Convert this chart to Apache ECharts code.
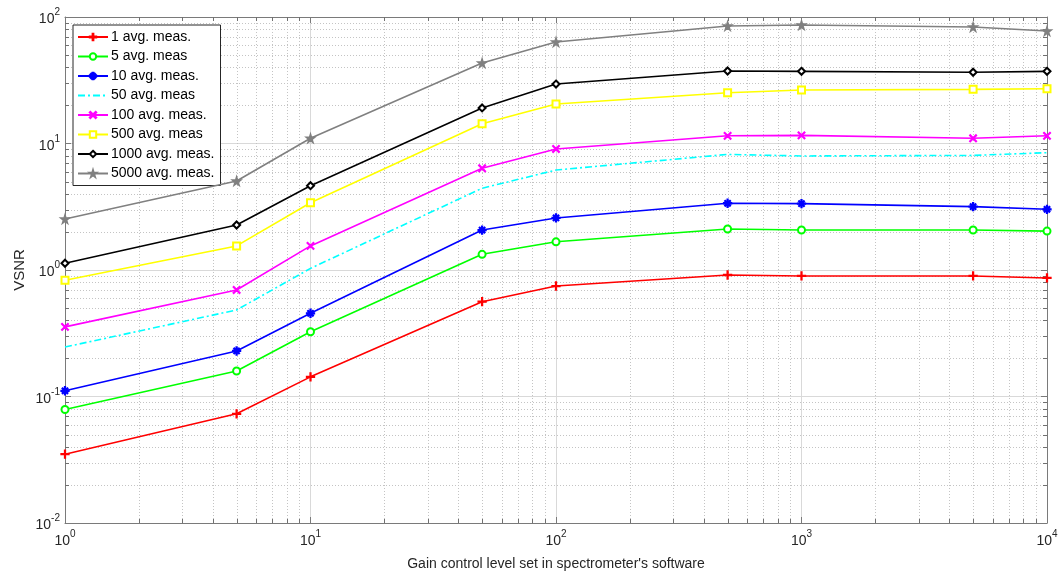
<!DOCTYPE html>
<html>
<head>
<meta charset="utf-8">
<script src="https://cdn.jsdelivr.net/npm/echarts@6/dist/echarts.min.js"></script>
<style>
html,body{margin:0;padding:0;background:#fff;}
#chart{width:1064px;height:576px;}
</style>
</head>
<body>
<div id="chart"></div>
<script>
// ---- data ----
const gain = [1, 5, 10, 50, 100, 500, 1000, 5000, 10000];
const avg1    = [0.035, 0.073, 0.143, 0.562, 0.747, 0.913, 0.897, 0.897, 0.865];
const avg5    = [0.079, 0.159, 0.325, 1.33, 1.67, 2.11, 2.07, 2.07, 2.03];
const avg10   = [0.111, 0.229, 0.455, 2.07, 2.58, 3.37, 3.35, 3.17, 3.02];
const avg50   = [0.246, 0.483, 1.03, 4.43, 6.17, 8.2, 7.97, 8.05, 8.46];
const avg100  = [0.355, 0.695, 1.55, 6.37, 9.05, 11.5, 11.6, 11.0, 11.5];
const avg500  = [0.83, 1.55, 3.40, 14.3, 20.5, 25.2, 26.5, 26.8, 27.1];
const avg1000 = [1.13, 2.27, 4.64, 19.1, 29.5, 37.4, 37.2, 36.6, 37.2];
const avg5000 = [2.53, 5.05, 11.0, 43.3, 63.5, 85, 86.5, 83.4, 77.5];
const seriesNames = ['1 avg. meas.', '5 avg. meas', '10 avg. meas.', '50 avg. meas',
  '100 avg. meas.', '500 avg. meas', '1000 avg. meas.', '5000 avg. meas.'];
const xMinorTicks = [2,3,4,5,6,7,8,9,20,30,40,50,60,70,80,90,200,300,400,500,600,700,800,900,
  2000,3000,4000,5000,6000,7000,8000,9000];
const yMinorTicks = [0.02,0.03,0.04,0.05,0.06,0.07,0.08,0.09,0.2,0.3,0.4,0.5,0.6,0.7,0.8,0.9,
  2,3,4,5,6,7,8,9,20,30,40,50,60,70,80,90];
const xLabel = "Gain control level set in spectrometer's software";
const yLabel = 'VSNR';

// ---- symbols ----
const PLUS = 'path://M4.4,0 L5.6,0 L5.6,10 L4.4,10 Z M0,4.4 L10,4.4 L10,5.6 L0,5.6 Z';
const CROSS = 'path://M0,0.9 L0.9,0 L10,9.1 L9.1,10 Z M9.1,0 L10,0.9 L0.9,10 L0,9.1 Z';
const ASTER = 'path://M4.4,0 L5.6,0 L5.6,10 L4.4,10 Z M0,4.4 L10,4.4 L10,5.6 L0,5.6 Z M1.3,2.1 L2.1,1.3 L8.7,7.9 L7.9,8.7 Z M7.9,1.3 L8.7,2.1 L2.1,8.7 L1.3,7.9 Z';
const STAR = 'path://M50,0 L61,35 L98,35 L68,57 L79,91 L50,70 L21,91 L32,57 L2,35 L39,35 Z';

const valuesList = [avg1, avg5, avg10, avg50, avg100, avg500, avg1000, avg5000];
const colors = ['#ff0000', '#00ff00', '#0000ff', '#00ffff', '#ff00ff', '#ffff00', '#000000', '#808080'];
const symbols = [PLUS, 'emptyCircle', ASTER, 'none', CROSS, 'emptyRect', 'emptyDiamond', STAR];
const symSizes = [8, 7, 8, 0, 7, 7, 7, 9];

const lineSeries = valuesList.map((vals, i) => ({
  name: seriesNames[i],
  type: 'line',
  xAxisIndex: 0, yAxisIndex: 0,
  data: gain.map((g, j) => [g, vals[j]]),
  symbol: symbols[i],
  showSymbol: symbols[i] !== 'none',
  symbolSize: symSizes[i],
  color: colors[i],
  lineStyle: { width: 1.6, color: colors[i], type: i === 3 ? [7, 3, 2, 3] : 'solid' },
  itemStyle: { color: colors[i], borderColor: colors[i], borderWidth: 1.3 },
  emphasis: { disabled: true },
  animation: false,
  z: 3 + i
}));

// minor grid (dotted) + minor ticks, positioned through the axes
const gridData = xMinorTicks.map(v => [v, 1, 0]).concat(yMinorTicks.map(v => [1, v, 1]));
const gridSeries = {
  type: 'custom',
  name: 'minorGrid',
  xAxisIndex: 0, yAxisIndex: 0,
  silent: true,
  animation: false,
  z: 1,
  data: gridData,
  encode: { x: 0, y: 1 },
  renderItem: function (params, api) {
    const cs = params.coordSys;
    const flag = api.value(2);
    const children = [];
    const dash = { stroke: '#c4c4c4', lineWidth: 1, lineDash: [1, 2] };
    const tick = { stroke: '#707070', lineWidth: 1 };
    if (flag === 0) {
      const x = Math.round(api.coord([api.value(0), 1])[0]) + 0.5;
      children.push({ type: 'line', shape: { x1: x, y1: cs.y, x2: x, y2: cs.y + cs.height }, style: dash });
      children.push({ type: 'line', shape: { x1: x, y1: cs.y + cs.height, x2: x, y2: cs.y + cs.height - 4 }, style: tick });
      children.push({ type: 'line', shape: { x1: x, y1: cs.y, x2: x, y2: cs.y + 4 }, style: tick });
    } else {
      const y = Math.round(api.coord([1, api.value(1)])[1]) + 0.5;
      children.push({ type: 'line', shape: { x1: cs.x, y1: y, x2: cs.x + cs.width, y2: y }, style: dash });
      children.push({ type: 'line', shape: { x1: cs.x, y1: y, x2: cs.x + 4, y2: y }, style: tick });
      children.push({ type: 'line', shape: { x1: cs.x + cs.width, y1: y, x2: cs.x + cs.width - 4, y2: y }, style: tick });
    }
    return { type: 'group', children: children };
  }
};

const FONT = 'Liberation Sans, Arial, Helvetica, sans-serif';
const richLabel = {
  b: { fontSize: 14, fontFamily: FONT, color: '#262626', lineHeight: 19, verticalAlign: 'bottom' },
  s: { fontSize: 10, fontFamily: FONT, color: '#262626', lineHeight: 10, verticalAlign: 'top' }
};
function powFmt(v) {
  const e = Math.round(Math.log10(v));
  return '{b|10}{s|' + e + '}';
}
const axisLineStyle = { color: '#7a7a7a', width: 1 };

const legendData = seriesNames.map((n, i) => i === 3
  ? { name: n, itemStyle: { opacity: 0 } }
  : { name: n });

const option = {
  backgroundColor: '#ffffff',
  animation: false,
  grid: { left: 65, right: 17, top: 17, bottom: 53, containLabel: false },
  legend: {
    data: legendData,
    orient: 'vertical',
    left: 73, top: 25,
    itemWidth: 30, itemHeight: 8, itemGap: 5.5,
    padding: [5, 6, 5, 4],
    backgroundColor: '#ffffff',
    borderColor: '#262626', borderWidth: 1,
    textStyle: { fontSize: 14, fontFamily: FONT, color: '#000', padding: [0, 0, 0, -2] },
    selectedMode: false
  },
  xAxis: [{
    type: 'log', logBase: 10, min: 1, max: 10000,
    position: 'bottom',
    name: xLabel, nameLocation: 'middle', nameGap: 34, nameMoveOverlap: false,
    nameTextStyle: { fontSize: 14, fontFamily: FONT, color: '#262626' },
    axisLine: { show: true, onZero: false, lineStyle: axisLineStyle },
    axisTick: { show: true, inside: true, length: 6, lineStyle: axisLineStyle },
    axisLabel: { formatter: powFmt, rich: richLabel, margin: 6 },
    splitLine: { show: true, lineStyle: { color: '#d9d9d9', width: 1 } },
    minorTick: { show: false }
  }, {
    type: 'log', logBase: 10, min: 1, max: 10000,
    position: 'top',
    axisLine: { show: true, onZero: false, lineStyle: axisLineStyle },
    axisTick: { show: true, inside: true, length: 6, lineStyle: axisLineStyle },
    axisLabel: { show: false },
    splitLine: { show: false }
  }],
  yAxis: [{
    type: 'log', logBase: 10, min: 0.01, max: 100,
    position: 'left',
    name: yLabel, nameLocation: 'middle', nameGap: 38, nameRotate: 90, nameMoveOverlap: false,
    nameTextStyle: { fontSize: 15, fontFamily: FONT, color: '#262626' },
    axisLine: { show: true, onZero: false, lineStyle: axisLineStyle },
    axisTick: { show: true, inside: true, length: 6, lineStyle: axisLineStyle },
    axisLabel: { formatter: powFmt, rich: richLabel, margin: 5 },
    splitLine: { show: true, lineStyle: { color: '#d9d9d9', width: 1 } }
  }, {
    type: 'log', logBase: 10, min: 0.01, max: 100,
    position: 'right',
    axisLine: { show: true, onZero: false, lineStyle: axisLineStyle },
    axisTick: { show: true, inside: true, length: 6, lineStyle: axisLineStyle },
    axisLabel: { show: false },
    splitLine: { show: false }
  }],
  series: [gridSeries].concat(lineSeries)
};

const chart = echarts.init(document.getElementById('chart'), null, { renderer: 'canvas' });
chart.setOption(option);
</script>
</body>
</html>
